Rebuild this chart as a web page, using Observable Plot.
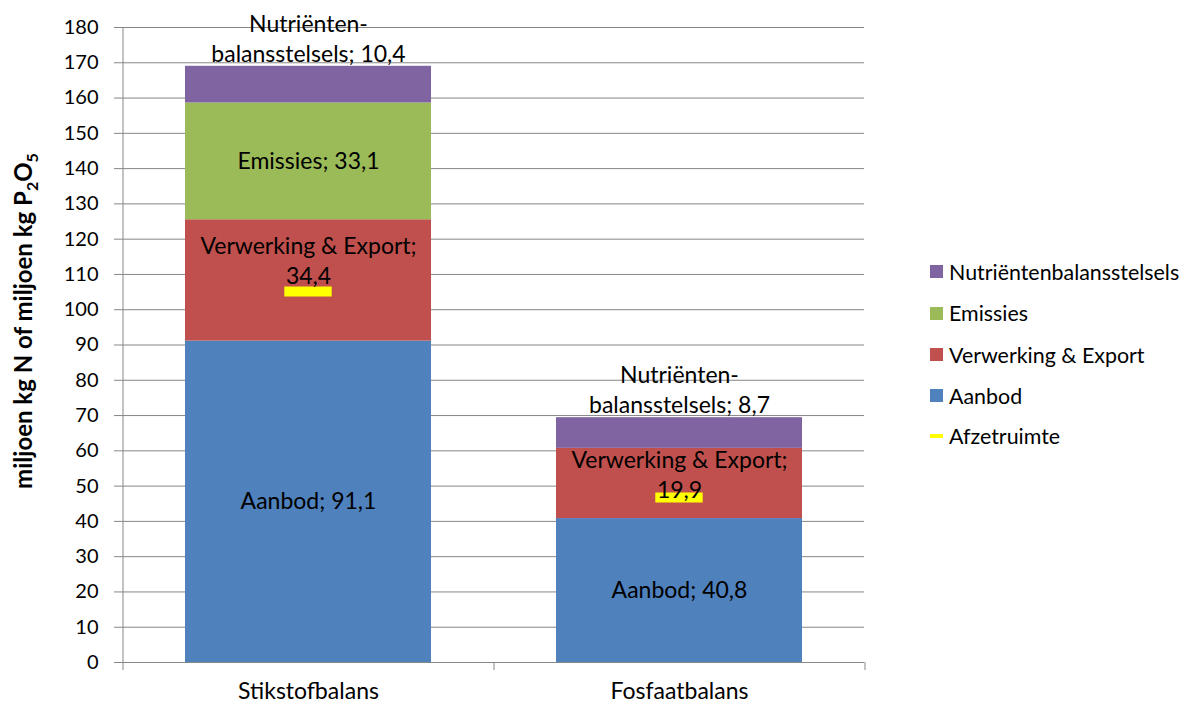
<!DOCTYPE html>
<html>
<head>
<meta charset="utf-8">
<script src="https://cdn.jsdelivr.net/npm/d3@7"></script>
<script src="https://cdn.jsdelivr.net/npm/@observablehq/plot@0.6"></script>
<style>
  html, body { margin: 0; padding: 0; background: #fff; }
  #wrap { position: relative; width: 1184px; height: 704px; font-family: Lato, "Liberation Sans", sans-serif; }
  #legend { position: absolute; left: 930px; top: 0; width: 254px; }
  .item { position: absolute; left: 0; height: 24px; display: flex; align-items: center; font-size: 21.4px; color: #000; white-space: nowrap; }
  .sw { width: 13px; height: 13px; margin-right: 6px; flex: none; }
  .ln { width: 13px; height: 4px; margin-right: 6px; flex: none; }
</style>
</head>
<body>
<div id="wrap"><div id="legend"></div></div>
<script>
// ---- data ----
const categories = ["Stikstofbalans", "Fosfaatbalans"];
const seriesNames = ["Aanbod", "Verwerking & Export", "Emissies", "Nutriëntenbalansstelsels"];
const stikstofValues = [91.1, 34.4, 33.1, 10.4];
const fosfaatValues = [40.8, 19.9, 0, 8.7];
const afzetruimteName = "Afzetruimte";
const afzetruimteValues = [105.2, 46.8];
const yTicks = [0, 10, 20, 30, 40, 50, 60, 70, 80, 90, 100, 110, 120, 130, 140, 150, 160, 170, 180];
const yTitle = "miljoen kg N of miljoen kg P2O5";

// ---- styles ----
const seriesColors = ["#4F81BD", "#C0504D", "#9BBB59", "#8064A2"];
const afzetColor = "#FFFF00";
const gray = "#868686";
const font = "Lato, 'Liberation Sans', sans-serif";

const W = 1184, H = 704;
const mL = 122, mR = 320, mT = 27, mB = 42;
const padInner = 0.338, padOuter = 0.169;
const step = (W - mL - mR) / (categories.length - padInner + 2 * padOuter);
const bandW = step * (1 - padInner);
const pxPerUnit = (H - mT - mB) / 180;

const fmt = v => String(v).replace(".", ",");
const valuesByCat = [stikstofValues, fosfaatValues];
const segments = [];
categories.forEach((cat, ci) => {
  let acc = 0;
  seriesNames.forEach((s, si) => {
    const v = valuesByCat[ci][si];
    if (v > 0) {
      let label;
      if (si === 3) label = "Nutriënten-\nbalansstelsels; " + fmt(v);
      else if (si === 1) label = s + ";\n" + fmt(v);
      else label = s + "; " + fmt(v);
      segments.push({cat, series: s, value: v, lo: acc, hi: acc + v, label});
    }
    acc += v;
  });
});
const afzet = categories.map((c, i) => ({cat: c, value: afzetruimteValues[i]}));

const mid = d => (d.lo + d.hi) / 2;
const lblSize = 23;
const lh = 30 / lblSize;

const chart = Plot.plot({
  width: W, height: H,
  marginLeft: mL, marginRight: mR, marginTop: mT, marginBottom: mB,
  style: {fontFamily: font, background: "white", color: "black"},
  x: {domain: categories, paddingInner: padInner, paddingOuter: padOuter, axis: null},
  y: {domain: [0, 180], axis: null},
  color: {domain: seriesNames, range: seriesColors},
  marks: [
    Plot.gridY(yTicks.filter(t => t > 0), {stroke: gray, strokeOpacity: 1, strokeWidth: 1}),
    Plot.barY(segments, {x: "cat", y1: "lo", y2: "hi", fill: "series"}),
    Plot.tickY(afzet, {x: "cat", y: "value", stroke: afzetColor, strokeWidth: 10,
      insetLeft: (bandW - 47) / 2, insetRight: (bandW - 47) / 2}),
    Plot.ruleY([0], {stroke: gray, strokeWidth: 1}),
    Plot.ruleX([categories[0]], {x: d => d, stroke: gray, dx: -step / 2}),
    Plot.ruleX(categories, {x: d => d, y1: 0, y2: -8 / pxPerUnit, stroke: gray, dx: -step / 2}),
    Plot.ruleX([categories[categories.length - 1]], {x: d => d, y1: 0, y2: -8 / pxPerUnit, stroke: gray, dx: step / 2}),
    Plot.axisY({ticks: yTicks, tickSize: 8, tickPadding: 16, stroke: gray, fill: "black", fontSize: 20, label: null, tickFormat: d => String(d)}),
    Plot.axisX({tickSize: 0, tickPadding: 20, fill: "black", fontSize: 23, label: null}),
    // labels
    Plot.text(segments.filter(d => d.series === "Aanbod" || d.series === "Emissies"),
      {x: "cat", y: mid, text: "label", fontSize: lblSize, fill: "black"}),
    Plot.text(segments.filter(d => d.series === "Verwerking & Export" && d.cat === categories[0]),
      {x: "cat", y: mid, text: "label", fontSize: lblSize, fill: "black", lineHeight: lh, lineAnchor: "middle", dy: -21}),
    Plot.text(segments.filter(d => d.series === "Verwerking & Export" && d.cat === categories[1]),
      {x: "cat", y: mid, text: "label", fontSize: lblSize, fill: "black", lineHeight: lh, lineAnchor: "middle", dy: -10}),
    Plot.text(segments.filter(d => d.series === "Nutriëntenbalansstelsels"),
      {x: "cat", y: "hi", text: "label", fontSize: lblSize, fill: "black", lineHeight: lh, lineAnchor: "middle", dy: -29}),
    Plot.text([yTitle], {frameAnchor: "left", text: d => d, rotate: -90, textAnchor: "middle", lineAnchor: "middle",
      dx: -98, dy: -24, fontSize: 24, fontWeight: "bold", fill: "black"})
  ]
});

// subscripts in the y title
d3.select(chart).selectAll("text").filter(function () { return this.textContent === yTitle; })
  .each(function () {
    const t = d3.select(this);
    t.text(null);
    t.append("tspan").text("miljoen kg N of miljoen kg P");
    t.append("tspan").attr("font-size", 16).attr("dy", 6).text("2");
    t.append("tspan").attr("dy", -6).text("O");
    t.append("tspan").attr("font-size", 16).attr("dy", 6).text("5");
  });

document.getElementById("wrap").prepend(chart);

// legend
const legendItems = [
  {name: seriesNames[3], color: seriesColors[3], type: "sw", cy: 271.5},
  {name: seriesNames[2], color: seriesColors[2], type: "sw", cy: 313},
  {name: seriesNames[1], color: seriesColors[1], type: "sw", cy: 354.5},
  {name: seriesNames[0], color: seriesColors[0], type: "sw", cy: 395.5},
  {name: afzetruimteName, color: afzetColor, type: "ln", cy: 436}
];
const leg = document.getElementById("legend");
legendItems.forEach(it => {
  const div = document.createElement("div");
  div.className = "item";
  div.style.top = (it.cy - 12) + "px";
  const sw = document.createElement("span");
  sw.className = it.type;
  sw.style.background = it.color;
  const tx = document.createElement("span");
  tx.textContent = it.name;
  div.appendChild(sw);
  div.appendChild(tx);
  leg.appendChild(div);
});
</script>
</body>
</html>
